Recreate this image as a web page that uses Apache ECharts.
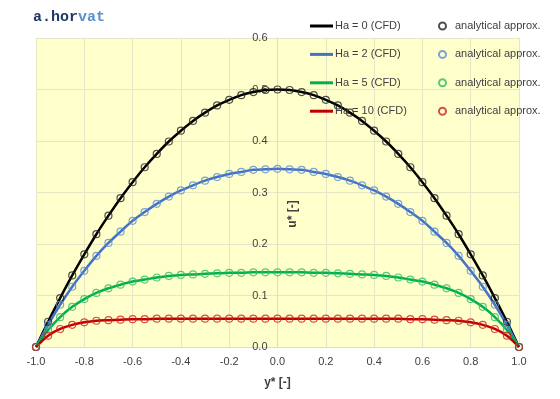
<!DOCTYPE html>
<html>
<head>
<meta charset="utf-8">
<script src="https://cdn.jsdelivr.net/npm/echarts@6/dist/echarts.min.js"></script>
<style>
html,body{margin:0;padding:0;background:#fff;}
#c{width:560px;height:399px;}
</style>
</head>
<body>
<div id="c"></div>
<script>
// ---- data ----
const yStar = [-1.0,-0.95,-0.9,-0.85,-0.8,-0.75,-0.7,-0.65,-0.6,-0.55,-0.5,-0.45,-0.4,-0.35,-0.3,-0.25,-0.2,-0.15,-0.1,-0.05,0.0,
  0.05,0.1,0.15,0.2,0.25,0.3,0.35,0.4,0.45,0.5,0.55,0.6,0.65,0.7,0.75,0.8,0.85,0.9,0.95,1.0];
const ha0 = [0,0.049,0.095,0.139,0.18,0.219,0.255,0.289,0.32,0.349,0.375,0.399,0.42,0.439,0.455,0.469,0.48,0.489,0.495,0.499,0.5,
  0.499,0.495,0.489,0.48,0.469,0.455,0.439,0.42,0.399,0.375,0.349,0.32,0.289,0.255,0.219,0.18,0.139,0.095,0.049,0];
const ha2 = [0,0.043,0.082,0.117,0.148,0.177,0.202,0.224,0.245,0.262,0.278,0.292,0.304,0.314,0.323,0.33,0.336,0.34,0.344,0.345,0.346,
  0.345,0.344,0.34,0.336,0.33,0.323,0.314,0.304,0.292,0.278,0.262,0.245,0.224,0.202,0.177,0.148,0.117,0.082,0.043,0];
const ha5 = [0,0.033,0.058,0.078,0.093,0.105,0.114,0.121,0.127,0.131,0.135,0.138,0.14,0.141,0.142,0.143,0.144,0.144,0.145,0.145,0.145,
  0.145,0.145,0.144,0.144,0.143,0.142,0.141,0.14,0.138,0.135,0.131,0.127,0.121,0.114,0.105,0.093,0.078,0.058,0.033,0];
const ha10 = [0,0.022,0.035,0.043,0.048,0.051,0.052,0.053,0.054,0.054,0.055,0.055,0.055,0.055,0.055,0.055,0.055,0.055,0.055,0.055,0.055,
  0.055,0.055,0.055,0.055,0.055,0.055,0.055,0.055,0.055,0.055,0.054,0.054,0.053,0.052,0.051,0.048,0.043,0.035,0.022,0];
const cfdNames = ['Ha = 0 (CFD)','Ha = 2 (CFD)','Ha = 5 (CFD)','Ha = 10 (CFD)'];
const anaNames = ['analytical approx. (Ha = 0)','analytical approx. (Ha = 2)','analytical approx. (Ha = 5)','analytical approx. (Ha = 10)'];
const xTicks = [-1.0,-0.8,-0.6,-0.4,-0.2,0.0,0.2,0.4,0.6,0.8,1.0];
const yTicks = [0.0,0.1,0.2,0.3,0.4,0.5,0.6];

const profiles = [ha0, ha2, ha5, ha10];
const lineColors = ['#000000','#4472C4','#00B050','#C00000'];
const markColors = ['#222222','#5B8BD6','#2DBE5F','#D02020'];
const FONT = '"Liberation Sans", Arial, sans-serif';

const pairs = arr => yStar.map((x,i)=>[x, arr[i]]);

const series = [];
profiles.forEach((p,k)=>{
  series.push({
    name: cfdNames[k], type:'line', data: pairs(p), smooth: 0.3,
    showSymbol:false, symbol:'none',
    lineStyle:{color: lineColors[k], width:2.5}, itemStyle:{color: lineColors[k]},
    z: 2 + k*0.1, animation:false
  });
});
profiles.forEach((p,k)=>{
  series.push({
    name: anaNames[k], type:'scatter', data: pairs(p),
    symbol:'circle', symbolSize:7,
    itemStyle:{color:'rgba(0,0,0,0)', borderColor: markColors[k], borderWidth:1.2},
    z: 3, animation:false
  });
});

const GRID_L = 36, GRID_R = 41, W = 560;
const plotW = W - GRID_L - GRID_R;

const chart = echarts.init(document.getElementById('c'), null, {renderer:'canvas'});
chart.setOption({
  animation:false,
  backgroundColor:'#ffffff',
  title:{
    text:'{a|a.hor}{b|vat}', left:28, top:5,
    textStyle:{rich:{
      a:{fontFamily:'"Liberation Mono", "DejaVu Sans Mono", monospace', fontWeight:'bold', fontSize:15, color:'#1F3864'},
      b:{fontFamily:'"Liberation Mono", "DejaVu Sans Mono", monospace', fontWeight:'bold', fontSize:15, color:'#5B8FD0'}
    }}
  },
  grid:{left:GRID_L, right:GRID_R, top:38, bottom:52, show:true, backgroundColor:'#FFFFCC', borderWidth:0},
  legend:[
    {
      data: cfdNames, orient:'vertical', left:305, top:14,
      icon:'rect', itemWidth:23, itemHeight:3, itemGap:14.4,
      textStyle:{fontFamily:FONT, fontSize:11, color:'#404040', lineHeight:14, padding:[0,0,0,-3]},
      selectedMode:false
    },
    {
      data: anaNames, orient:'vertical', left:433, top:14,
      icon:'circle', itemWidth:7, itemHeight:7, itemGap:14.4,
      formatter: ()=> 'analytical approx.',
      textStyle:{fontFamily:FONT, fontSize:11, color:'#404040', lineHeight:14, padding:[0,0,0,4]},
      selectedMode:false
    }
  ],
  xAxis:{
    type:'value', min:-1, max:1, interval:0.2,
    name:'y* [-]', nameLocation:'middle', nameGap:30,
    nameTextStyle:{fontFamily:FONT, fontSize:12, fontWeight:'bold', color:'#404040'},
    axisLine:{show:true, onZero:false, lineStyle:{color:'#DDDDC4'}},
    axisTick:{show:false},
    axisLabel:{fontFamily:FONT, fontSize:11, color:'#404040', margin:9,
      formatter: v => { const t = xTicks.find(q => Math.abs(q-v)<1e-6); return (t!==undefined?t:v).toFixed(1); }},
    splitLine:{show:true, lineStyle:{color:'#E6E6C6', width:1}}
  },
  yAxis:{
    type:'value', min:0, max:0.6, interval:0.1,
    position:'left', offset: -plotW/2,
    axisLine:{show:true, onZero:false, lineStyle:{color:'#DDDDC4'}},
    axisTick:{show:false},
    axisLabel:{fontFamily:FONT, fontSize:11, color:'#404040', margin:10,
      formatter: v => { const t = yTicks.find(q => Math.abs(q-v)<1e-6); return (t!==undefined?t:v).toFixed(1); }},
    splitLine:{show:true, lineStyle:{color:'#E6E6C6', width:1}}
  },
  graphic:[{
    type:'text', x:293, y:214, rotation:Math.PI/2,
    style:{text:'u* [-]', fontFamily:FONT, fontSize:12, fontWeight:'bold', fill:'#404040', align:'center', verticalAlign:'middle'}
  }],
  series: series
});
</script>
</body>
</html>
